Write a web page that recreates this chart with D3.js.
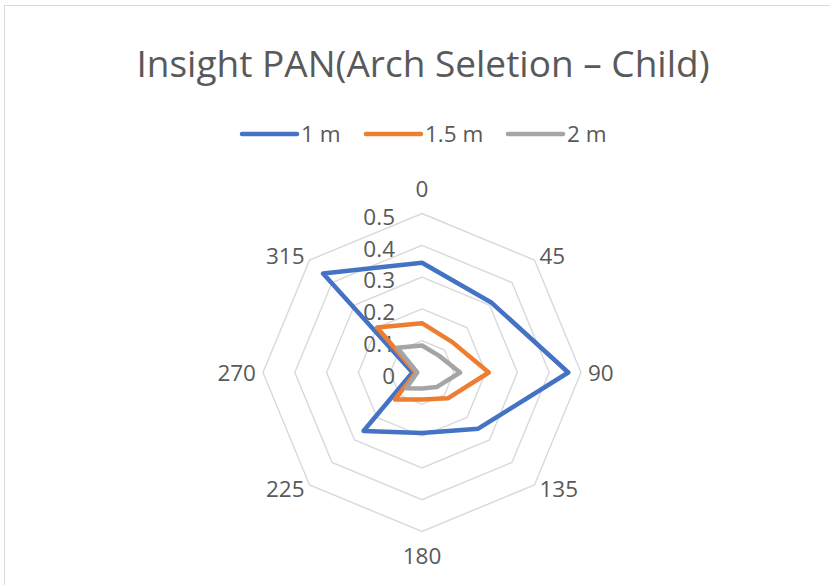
<!DOCTYPE html>
<html>
<head>
<meta charset="utf-8">
<script src="https://cdn.jsdelivr.net/npm/d3@7"></script>
<style>
  html, body { margin: 0; padding: 0; background: #fff; }
  svg { display: block; font-family: "Open Sans", "Noto Sans", sans-serif; }
</style>
</head>
<body>
<svg id="chart" width="830" height="585"></svg>
<script>
// Directions (degrees) around the radar
const directions = ["0", "45", "90", "135", "180", "225", "270", "315"];
// Ring values shown on the radial axis
const ringTicks = [0, 0.1, 0.2, 0.3, 0.4, 0.5];
const tickLabels = ["0", "0.1", "0.2", "0.3", "0.4", "0.5"];

// Series names and values per direction
const seriesNames = ["1 m", "1.5 m", "2 m"];
const values1m   = [0.345, 0.31, 0.46, 0.25, 0.19, 0.26, 0.03, 0.44];
const values15m  = [0.155, 0.135, 0.21, 0.115, 0.085, 0.12, 0.02, 0.20];
const values2m   = [0.085, 0.075, 0.12, 0.065, 0.05, 0.07, 0.015, 0.11];
const seriesColors = ["#4472C4", "#ED7D31", "#A5A5A5"];

const series = [values1m, values15m, values2m].map((v, i) => ({
  name: seriesNames[i], values: v, color: seriesColors[i]
}));

const svg = d3.select("#chart");
const textColor = "#595959";
const gridColor = "#d9d9d9";
const labelSize = 22.5;

// Chart frame
svg.append("rect")
  .attr("x", 4.5).attr("y", 5.5)
  .attr("width", 840).attr("height", 600)
  .attr("fill", "none").attr("stroke", gridColor).attr("stroke-width", 1);

// Title
svg.append("text")
  .attr("x", 423).attr("y", 77)
  .attr("text-anchor", "middle")
  .attr("font-size", 37)
  .attr("fill", textColor)
  .text("Insight PAN(Arch Seletion – Child)");

// Legend
const legendX = [242, 366, 508];
const legend = svg.append("g");
series.forEach((s, i) => {
  legend.append("line")
    .attr("x1", legendX[i]).attr("x2", legendX[i] + 55)
    .attr("y1", 134).attr("y2", 134)
    .attr("stroke", s.color).attr("stroke-width", 4.5)
    .attr("stroke-linecap", "round");
  legend.append("text")
    .attr("x", legendX[i] + 59).attr("y", 134)
    .attr("dy", "0.35em")
    .attr("font-size", labelSize)
    .attr("fill", textColor)
    .text(s.name);
});

// Radar geometry
const cx = 422, cy = 372.5;
const r = d3.scaleLinear().domain([0, 0.5]).range([0, 159]);
const angle = d3.scalePoint().domain(directions).range([0, 2 * Math.PI * 7 / 8]);

const pointAt = (dir, v) => {
  const a = angle(dir);
  return [cx + r(v) * Math.sin(a), cy - r(v) * Math.cos(a)];
};

const closedLine = d3.line().curve(d3.curveLinearClosed);

// Octagonal grid rings
const grid = svg.append("g");
ringTicks.filter(t => t > 0).forEach(t => {
  grid.append("path")
    .attr("d", closedLine(directions.map(d => pointAt(d, t))))
    .attr("fill", "none")
    .attr("stroke", gridColor)
    .attr("stroke-width", 1.4);
});

// Radial tick labels along the 0 direction
svg.append("g").selectAll("text")
  .data(ringTicks)
  .join("text")
  .attr("x", cx - 27)
  .attr("y", t => cy - r(t) + 3.5)
  .attr("dy", "0.35em")
  .attr("text-anchor", "end")
  .attr("font-size", labelSize)
  .attr("fill", textColor)
  .text((t, i) => tickLabels[i]);

// Direction labels placed beside each outer vertex
const sideOf = a => {
  const s = Math.sin(a);
  return Math.abs(s) < 1e-6 ? 0 : Math.sign(s);
};
svg.append("g").selectAll("text")
  .data(directions)
  .join("text")
  .each(function (d) {
    const a = angle(d);
    const [vx, vy] = pointAt(d, 0.5);
    const side = sideOf(a);
    const c = Math.cos(a);
    let x = vx, y = vy, anchor = "middle";
    if (side === 0) {
      y = vy - c * 24.5;
    } else {
      anchor = side > 0 ? "start" : "end";
      const horiz = Math.abs(c) < 1e-6;
      x = vx + side * (horiz ? 7 : 5);
      y = vy + (horiz ? 1 : (c > 0 ? -3.5 : 4.5));
    }
    d3.select(this)
      .attr("x", x).attr("y", y)
      .attr("text-anchor", anchor);
  })
  .attr("dy", "0.35em")
  .attr("font-size", labelSize)
  .attr("fill", textColor)
  .text(d => d);

// Series outlines
svg.append("g").selectAll("path")
  .data(series)
  .join("path")
  .attr("d", s => closedLine(directions.map((d, i) => pointAt(d, s.values[i]))))
  .attr("fill", "none")
  .attr("stroke", s => s.color)
  .attr("stroke-width", 4.5)
  .attr("stroke-linejoin", "round");
</script>
</body>
</html>
